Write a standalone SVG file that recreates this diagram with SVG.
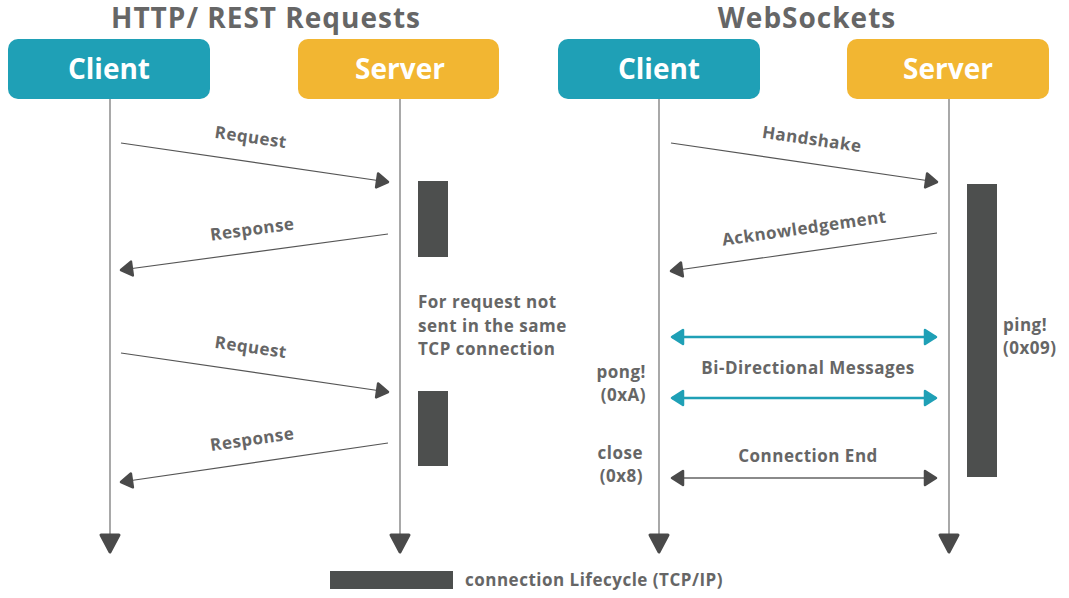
<svg xmlns="http://www.w3.org/2000/svg" width="1069" height="598" viewBox="0 0 1069 598">
<style>
.t{font-family:"Open Sans","Liberation Sans",sans-serif;font-weight:bold;fill:#666666}
.title{font-size:28px;letter-spacing:1px;text-anchor:middle}
.hdr{font-family:"Open Sans","Liberation Sans",sans-serif;font-weight:bold;font-size:28px;fill:#ffffff;text-anchor:middle}
.lbl{font-size:17px;letter-spacing:0.5px}
.life{stroke:#7a7a7a;stroke-width:1.3;fill:none}
.msg{stroke:#555555;stroke-width:1.2;fill:none}
.bi{stroke:#1fa0b6;stroke-width:2.5;fill:none}
.end{stroke:#8a8a8a;stroke-width:2;fill:none}
.act{fill:#4d4f4e}
</style>
<defs>
<marker id="ah" viewBox="0 0 15 18" refX="13" refY="9" markerWidth="15" markerHeight="18" markerUnits="userSpaceOnUse" orient="auto-start-reverse">
<path d="M2,2 L13,9 L2,16 Z" fill="#4a4a4a" stroke="#4a4a4a" stroke-width="2.5" stroke-linejoin="round"/>
</marker>
<marker id="ahb" viewBox="0 0 15 18" refX="13" refY="9" markerWidth="15" markerHeight="18" markerUnits="userSpaceOnUse" orient="auto-start-reverse">
<path d="M2,2 L13,9 L2,16 Z" fill="#1fa0b6" stroke="#1fa0b6" stroke-width="2.5" stroke-linejoin="round"/>
</marker>
<path id="down" d="M-9,0 L9,0 L0,17 Z" fill="#4a4a4a" stroke="#4a4a4a" stroke-width="3" stroke-linejoin="round"/>
</defs>
<rect width="1069" height="598" fill="#ffffff"/>
<text class="t title" x="266" y="28">HTTP/ REST Requests</text>
<text class="t title" x="807" y="28">WebSockets</text>

<g id="http-client"><rect x="8" y="39" width="202" height="60" rx="10" fill="#1fa0b6"/><text class="hdr" x="109" y="79">Client</text></g>
<g id="http-server"><rect x="298" y="39" width="201" height="60" rx="10" fill="#f2b632"/><text class="hdr" x="400" y="79">Server</text></g>
<g id="ws-client"><rect x="558" y="39" width="202" height="60" rx="10" fill="#1fa0b6"/><text class="hdr" x="659" y="79">Client</text></g>
<g id="ws-server"><rect x="847" y="39" width="202" height="60" rx="10" fill="#f2b632"/><text class="hdr" x="948" y="79">Server</text></g>

<g id="lifelines">
<line class="life" x1="110" y1="99" x2="110" y2="535"/>
<line class="life" x1="400" y1="99" x2="400" y2="535"/>
<line class="life" x1="659" y1="99" x2="659" y2="535"/>
<line class="life" x1="949" y1="99" x2="949" y2="535"/>
<use href="#down" x="110" y="535"/>
<use href="#down" x="400" y="535"/>
<use href="#down" x="659" y="535"/>
<use href="#down" x="949" y="535"/>
</g>

<g id="activations">
<rect class="act" x="418" y="181" width="30" height="76"/>
<rect class="act" x="418" y="391" width="30" height="75"/>
<rect class="act" x="967" y="184" width="30" height="293"/>
</g>

<g id="connectors">
<line class="msg" x1="121" y1="143" x2="388" y2="182" marker-end="url(#ah)"/>
<line class="msg" x1="388" y1="234" x2="121" y2="270" marker-end="url(#ah)"/>
<line class="msg" x1="121" y1="353" x2="388" y2="392" marker-end="url(#ah)"/>
<line class="msg" x1="388" y1="443" x2="121" y2="482" marker-end="url(#ah)"/>
<line class="msg" x1="671" y1="143" x2="937" y2="182" marker-end="url(#ah)"/>
<line class="msg" x1="937" y1="233" x2="671" y2="271" marker-end="url(#ah)"/>
<line class="bi" x1="672" y1="337" x2="936" y2="337" marker-start="url(#ahb)" marker-end="url(#ahb)"/>
<line class="bi" x1="672" y1="398" x2="936" y2="398" marker-start="url(#ahb)" marker-end="url(#ahb)"/>
<line class="end" x1="672" y1="478" x2="936" y2="478" marker-start="url(#ah)" marker-end="url(#ah)"/>
</g>

<g id="labels">
<text class="t lbl" text-anchor="middle" transform="translate(250,143) rotate(8.3)">Request</text>
<text class="t lbl" text-anchor="middle" transform="translate(253,235) rotate(-7.7)">Response</text>
<text class="t lbl" text-anchor="middle" transform="translate(250,353) rotate(8.3)">Request</text>
<text class="t lbl" text-anchor="middle" transform="translate(253,445) rotate(-8.3)">Response</text>
<text class="t lbl" text-anchor="middle" transform="translate(811,145) rotate(8.3)">Handshake</text>
<text class="t lbl" text-anchor="middle" transform="translate(805,234) rotate(-8.1)">Acknowledgement</text>
<text class="t lbl" x="418" y="308">For request not</text>
<text class="t lbl" x="418" y="332">sent in the same</text>
<text class="t lbl" x="418" y="355">TCP connection</text>
<text class="t lbl" x="646" y="378" text-anchor="end">pong!</text>
<text class="t lbl" x="646" y="401" text-anchor="end">(0xA)</text>
<text class="t lbl" x="643" y="459" text-anchor="end">close</text>
<text class="t lbl" x="643" y="482" text-anchor="end">(0x8)</text>
<text class="t lbl" x="1003" y="331">ping!</text>
<text class="t lbl" x="1003" y="354">(0x09)</text>
<text class="t lbl" x="808" y="374" text-anchor="middle">Bi-Directional Messages</text>
<text class="t lbl" x="808" y="462" text-anchor="middle">Connection End</text>
</g>

<g id="legend">
<rect class="act" x="330" y="571" width="123" height="18"/>
<text class="t lbl" x="465" y="586">connection Lifecycle (TCP/IP)</text>
</g>
</svg>
